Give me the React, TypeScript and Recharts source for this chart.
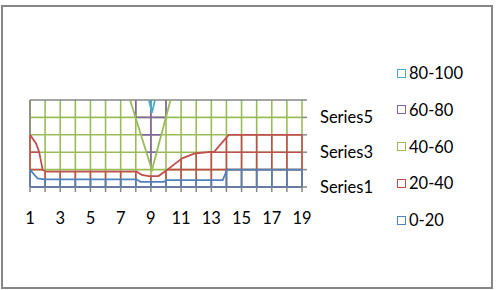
import React from "react";
import { ComposedChart, Line, XAxis, YAxis, ReferenceLine } from "recharts";

type Pt = { x: number; y: number };

// categories along the bottom, series along the depth axis
const X_VALUES = [1, 2, 3, 4, 5, 6, 7, 8, 9, 10, 11, 12, 13, 14, 15, 16, 17, 18, 19];
const SERIES_ROWS = [1, 2, 3, 4, 5, 6];
const SERIES_LABELS: Record<number, string> = { 1: "Series1", 3: "Series3", 5: "Series5" };

// legend, top to bottom
const BAND_LABELS = ["80-100", "60-80", "40-60", "20-40", "0-20"];

// contour lines (x = category, y = series position)
const CONTOUR_20: Pt[] = [
  { x: 1, y: 2 }, { x: 1.3, y: 1.69 }, { x: 1.5, y: 1.5 }, { x: 1.95, y: 1.44 },
  { x: 8.05, y: 1.44 }, { x: 8.3, y: 1.3 }, { x: 9.85, y: 1.3 }, { x: 10.05, y: 1.4 },
  { x: 13.75, y: 1.4 }, { x: 14.05, y: 2 }, { x: 19, y: 2 },
];
const CONTOUR_40: Pt[] = [
  { x: 1, y: 4 }, { x: 1.4, y: 3.5 }, { x: 1.6, y: 3.03 }, { x: 1.84, y: 1.98 },
  { x: 2.07, y: 1.88 }, { x: 8.07, y: 1.88 }, { x: 8.4, y: 1.69 }, { x: 8.85, y: 1.63 },
  { x: 9.5, y: 1.63 }, { x: 10.07, y: 1.98 }, { x: 10.5, y: 2.27 }, { x: 11.07, y: 2.65 },
  { x: 11.95, y: 2.94 }, { x: 13.2, y: 3.03 }, { x: 14.15, y: 4 }, { x: 19, y: 4 },
];
const CONTOUR_60: Pt[] = [{ x: 7.62, y: 6 }, { x: 9.07, y: 1.98 }, { x: 10.3, y: 6 }];
const CONTOUR_80: Pt[] = [{ x: 8.87, y: 6 }, { x: 9.07, y: 5.27 }, { x: 9.27, y: 6 }];

const COLORS: Record<string, string> = {
  "0-20": "#4F81BD",
  "20-40": "#C0504D",
  "40-60": "#9BBB59",
  "60-80": "#8064A2",
  "80-100": "#4BACC6",
};
const GREY = "#868686";
const FONT = "Lato, 'Open Sans', sans-serif";
const FONT_SIZE = 16.5;

function yAt(line: Pt[], x: number): number | null {
  for (let i = 0; i < line.length - 1; i++) {
    const a = line[i];
    const b = line[i + 1];
    if (x >= a.x && x <= b.x) return a.y + ((b.y - a.y) * (x - a.x)) / (b.x - a.x);
  }
  return null;
}

// x ranges where a contour lies above (or below) a series row
function spans(line: Pt[], level: number, above: boolean): [number, number][] {
  const inside = (y: number) => (above ? y > level + 1e-6 : y < level - 1e-6);
  const out: [number, number][] = [];
  let start: number | null = inside(line[0].y) ? line[0].x : null;
  for (let i = 0; i < line.length - 1; i++) {
    const a = line[i];
    const b = line[i + 1];
    const ia = inside(a.y);
    const ib = inside(b.y);
    if (ia !== ib) {
      const xc = a.x + ((b.x - a.x) * (level - a.y)) / (b.y - a.y);
      if (ib) start = xc;
      else if (start !== null) {
        out.push([start, xc]);
        start = null;
      }
    }
  }
  if (start !== null) out.push([start, line[line.length - 1].x]);
  return out;
}

type Seg = { x1: number; y1: number; x2: number; y2: number; color: string };

function buildWireframe(): Seg[] {
  const segs: Seg[] = [];
  const top = SERIES_ROWS[SERIES_ROWS.length - 1];
  const x0 = X_VALUES[0];
  const x1 = X_VALUES[X_VALUES.length - 1];
  const inner = SERIES_ROWS.filter((r) => r < top);

  // base band 40-60
  X_VALUES.forEach((x) => segs.push({ x1: x, y1: 1, x2: x, y2: top, color: COLORS["40-60"] }));
  inner.forEach((r) => segs.push({ x1: x0, y1: r, x2: x1, y2: r, color: COLORS["40-60"] }));

  // lower bands, painted over
  const lower: [Pt[], string][] = [
    [CONTOUR_40, COLORS["20-40"]],
    [CONTOUR_20, COLORS["0-20"]],
  ];
  lower.forEach(([line, color]) => {
    X_VALUES.forEach((x) => {
      const y = yAt(line, x);
      if (y !== null) segs.push({ x1: x, y1: 1, x2: x, y2: y, color });
    });
    inner.forEach((r) =>
      spans(line, r, true).forEach(([a, b]) => segs.push({ x1: a, y1: r, x2: b, y2: r, color }))
    );
  });

  // upper bands inside the peak
  const upper: [Pt[], string][] = [
    [CONTOUR_60, COLORS["60-80"]],
    [CONTOUR_80, COLORS["80-100"]],
  ];
  upper.forEach(([line, color]) => {
    X_VALUES.forEach((x) => {
      const y = yAt(line, x);
      if (y !== null) segs.push({ x1: x, y1: y, x2: x, y2: top, color });
    });
    inner.forEach((r) =>
      spans(line, r, false).forEach(([a, b]) => segs.push({ x1: a, y1: r, x2: b, y2: r, color }))
    );
  });

  // frame
  segs.push({ x1: x0, y1: top, x2: x1, y2: top, color: GREY });
  const leftTop = yAt(CONTOUR_40, x0) ?? top;
  segs.push({ x1: x0, y1: leftTop, x2: x0, y2: top, color: GREY });
  return segs;
}

const XTick = (props: any) => {
  const { x, y, payload } = props;
  if (payload.value % 2 === 0) return null;
  return (
    <text x={x} y={y} dy="0.71em" textAnchor="middle" fontSize={FONT_SIZE} fontFamily={FONT} fill="#000">
      {payload.value}
    </text>
  );
};

const YTick = (props: any) => {
  const { x, y, payload } = props;
  const label = SERIES_LABELS[payload.value];
  if (!label) return null;
  return (
    <text x={x} y={y} dy="0.36em" textAnchor="start" fontSize={FONT_SIZE} fontFamily={FONT} fill="#000">
      {label}
    </text>
  );
};

export default function App() {
  const segs = buildWireframe();
  const contours: [Pt[], string][] = [
    [CONTOUR_20, COLORS["0-20"]],
    [CONTOUR_40, COLORS["20-40"]],
    [CONTOUR_60, COLORS["40-60"]],
    [CONTOUR_80, COLORS["80-100"]],
  ];

  return (
    <div style={{ position: "absolute", left: 0, top: 0, width: 498, height: 290, background: "#fff" }}>
      <div
        style={{
          position: "absolute",
          left: 1,
          top: 5,
          width: 488,
          height: 280,
          border: `2px solid ${GREY}`,
        }}
      />
      <ComposedChart
        width={498}
        height={290}
        margin={{ top: 100, left: 30, right: 116, bottom: 63 }}
        style={{ position: "absolute", left: 0, top: 0 }}
      >
        <XAxis
          type="number"
          dataKey="x"
          domain={[1, 19]}
          allowDataOverflow
          ticks={X_VALUES}
          interval={0}
          height={40}
          axisLine={false}
          tickLine={{ stroke: GREY, strokeWidth: 1.5 }}
          tickSize={5}
          tickMargin={20}
          tick={<XTick />}
        />
        <YAxis
          type="number"
          orientation="right"
          domain={[1, 6]}
          allowDataOverflow
          ticks={SERIES_ROWS}
          interval={0}
          width={80}
          axisLine={false}
          tickLine={{ stroke: GREY, strokeWidth: 1.5 }}
          tickSize={5}
          tickMargin={13}
          tick={<YTick />}
        />
        {segs.map((s, i) => (
          <ReferenceLine
            key={`seg-${i}`}
            segment={[
              { x: s.x1, y: s.y1 },
              { x: s.x2, y: s.y2 },
            ]}
            stroke={s.color}
            strokeWidth={1.6}
            ifOverflow="visible"
            zIndex={300}
          />
        ))}
        {contours.map(([line, color], i) => (
          <Line
            key={`contour-${i}`}
            data={line}
            dataKey="y"
            type="linear"
            stroke={color}
            strokeWidth={1.8}
            dot={false}
            activeDot={false}
            isAnimationActive={false}
            zIndex={500}
          />
        ))}
      </ComposedChart>
      {BAND_LABELS.map((label, i) => (
        <div
          key={label}
          style={{
            position: "absolute",
            left: 397,
            top: 73 + i * 36.8 - 10,
            height: 20,
            display: "flex",
            alignItems: "center",
            fontFamily: FONT,
            fontSize: FONT_SIZE,
            color: "#000",
          }}
        >
          <span
            style={{
              display: "inline-block",
              width: 7,
              height: 7,
              border: `1.5px solid ${COLORS[label]}`,
              marginRight: 3,
            }}
          />
          {label}
        </div>
      ))}
    </div>
  );
}
